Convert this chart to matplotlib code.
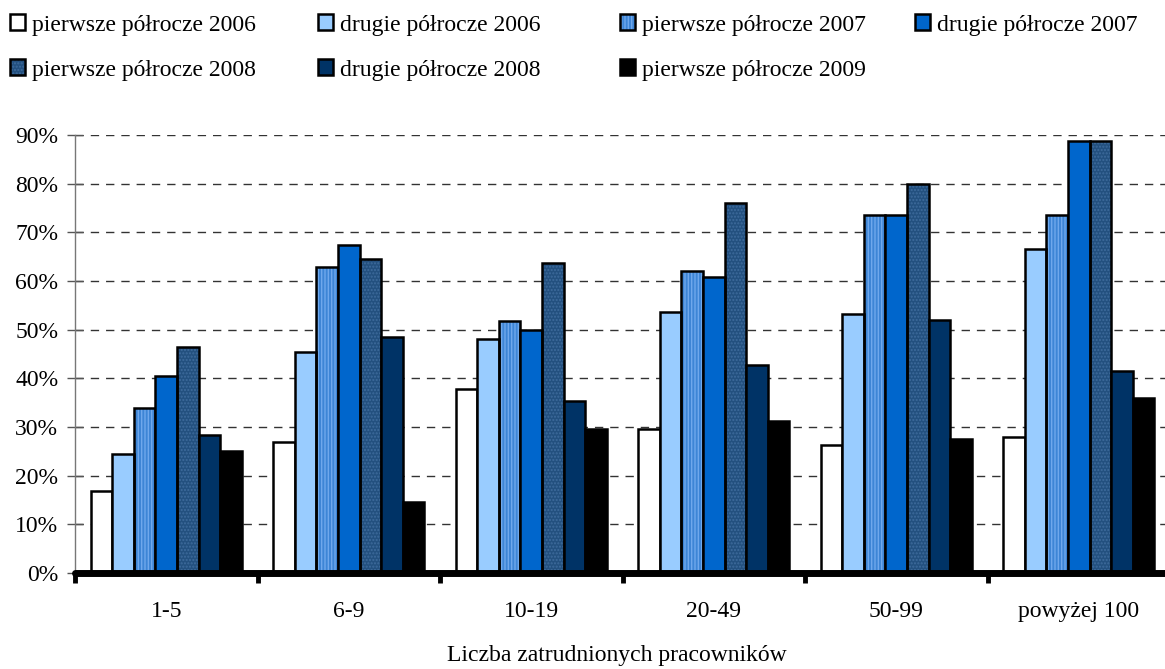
import numpy as np
import matplotlib
matplotlib.use("Agg")
import matplotlib.pyplot as plt
from matplotlib.legend_handler import HandlerTuple

plt.rcParams['font.family'] = ['Liberation Serif', 'DejaVu Serif']
plt.rcParams['hatch.linewidth'] = 1.0

categories = ['1-5', '6-9', '10-19', '20-49', '50-99', 'powyżej 100']
series_names = ['pierwsze półrocze 2006', 'drugie półrocze 2006',
                'pierwsze półrocze 2007', 'drugie półrocze 2007',
                'pierwsze półrocze 2008', 'drugie półrocze 2008',
                'pierwsze półrocze 2009']
h1_2006 = [16.8, 27.0, 37.8, 29.6, 26.3, 28.0]
h2_2006 = [24.5, 45.5, 48.0, 53.7, 53.3, 66.5]
h1_2007 = [34.0, 62.8, 51.7, 62.0, 73.5, 73.5]
h2_2007 = [40.5, 67.3, 50.0, 60.8, 73.5, 88.7]
h1_2008 = [46.5, 64.5, 63.6, 76.0, 80.0, 88.7]
h2_2008 = [28.4, 48.5, 35.3, 42.7, 52.0, 41.5]
h1_2009 = [25.0, 14.5, 29.6, 31.3, 27.5, 36.0]
values = [h1_2006, h2_2006, h1_2007, h2_2007, h1_2008, h2_2008, h1_2009]

faces = ['white', '#99CCFF', '#3D85D6', '#0066CC', '#23507F', '#003366', 'black']
hatches = [None, None, '|||||', None, '.....', None, None]
hatch_cols = [None, None, '#6FA8EC', None, '#3E6B9C', None, None]

W, H = 1165, 669
fig = plt.figure(figsize=(W / 100, H / 100), dpi=100)
ax = fig.add_axes([75 / W, (H - 573) / H, 1095 / W, (573 - 135) / H])

x = np.arange(len(categories))
bw = 0.118
handles = []
for i, (vals, fc) in enumerate(zip(values, faces)):
    pos = x + (i - 3) * bw
    if hatches[i]:
        hb = ax.bar(pos, vals, bw, color=fc, edgecolor=hatch_cols[i],
                    hatch=hatches[i], linewidth=0, zorder=3)
        ob = ax.bar(pos, vals, bw, fill=False, edgecolor='black',
                    linewidth=1.8, zorder=4)
        handles.append((hb, ob))
    else:
        ob = ax.bar(pos, vals, bw, color=fc, edgecolor='black',
                    linewidth=1.8, zorder=4)
        handles.append(ob)

fs = 17
ax.set_xlim(-0.5, len(categories) - 0.5)
ax.set_ylim(0, 90)
ax.set_yticks(np.arange(0, 91, 10))
ax.set_yticklabels([f'{v}%' for v in range(0, 91, 10)], fontsize=fs)
ax.yaxis.grid(True, color='#333333', linestyle=(0, (6, 5)), linewidth=1.0, zorder=0)
ax.set_axisbelow(True)

ax.set_xticks(x)
ax.set_xticklabels(categories, fontsize=fs)
ax.set_xticks(np.arange(-0.5, len(categories), 1), minor=True)
ax.tick_params(axis='x', which='major', length=0, pad=20)
ax.tick_params(axis='x', which='minor', length=7, width=3.5, color='black')
ax.tick_params(axis='y', length=12, direction='inout', color='#555555', width=1, pad=6)

for s in ['top', 'right']:
    ax.spines[s].set_visible(False)
ax.spines['left'].set_color('#777777')
ax.spines['left'].set_linewidth(1)
ax.spines['bottom'].set_linewidth(5)
ax.spines['bottom'].set_zorder(5)
ax.spines['bottom'].set_capstyle('round')

fig.text(617 / W, 1 - 655 / H, 'Liczba zatrudnionych pracowników',
         ha='center', va='center', fontsize=fs)

legend_pos = [(10, 25), (318, 25), (620, 25), (915, 25),
              (10, 70), (318, 70), (620, 70)]
for h, name, (px, py) in zip(handles, series_names, legend_pos):
    fig.legend([h], [name], loc='center left',
               bbox_to_anchor=(px / W, 1 - py / H), frameon=False,
               fontsize=fs, handlelength=0.65, handleheight=0.65,
               handletextpad=0.3, borderpad=0, borderaxespad=0,
               handler_map={tuple: HandlerTuple(ndivide=1, pad=0)})

fig.savefig('out.png', dpi=100)
